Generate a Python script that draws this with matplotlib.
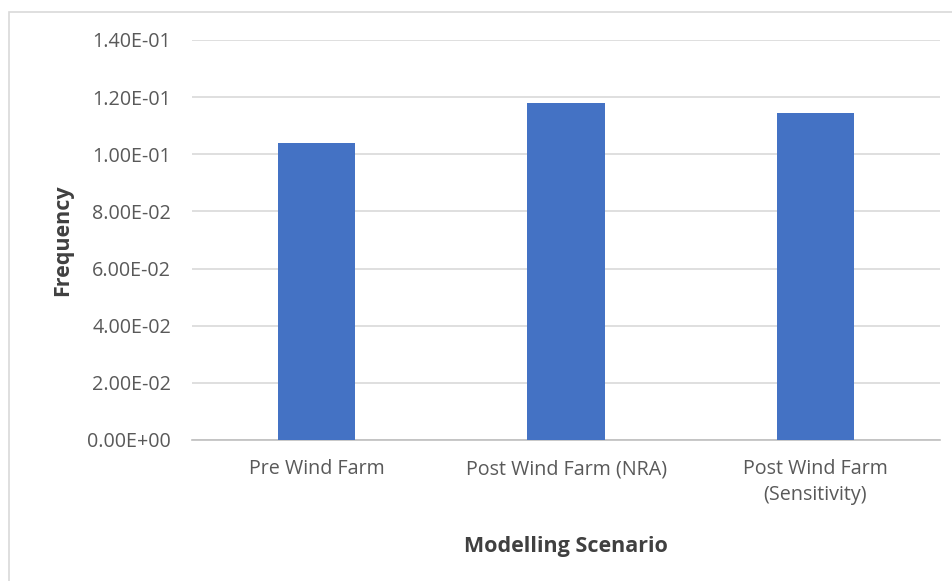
import matplotlib.pyplot as plt
from matplotlib.patches import Rectangle
from matplotlib.ticker import FuncFormatter

scenarios = ["Pre Wind Farm", "Post Wind Farm (NRA)", "Post Wind Farm\n(Sensitivity)"]
frequency = [0.1040, 0.1181, 0.1146]
y_ticks = [0.0, 0.02, 0.04, 0.06, 0.08, 0.10, 0.12, 0.14]

plt.rcParams["font.family"] = ["Open Sans", "DejaVu Sans"]

fig = plt.figure(figsize=(9.53, 5.81), dpi=100)
ax = fig.add_axes([0.2015, 0.2427, 0.7850, 0.6885])

x = range(len(scenarios))
ax.bar(x, frequency, width=0.31, color="#4472c4", zorder=3)

ax.set_xlim(-0.5, len(scenarios) - 0.5)
ax.set_ylim(0, 0.14)
ax.set_yticks(y_ticks)
ax.yaxis.set_major_formatter(FuncFormatter(lambda v, p: "{:.2E}".format(v)))
ax.set_xticks(list(x))
ax.set_xticklabels(scenarios, linespacing=1.4)

ax.grid(axis="y", color="#d9d9d9", linewidth=1.2, zorder=0)
for side in ["top", "right", "left"]:
    ax.spines[side].set_visible(False)
ax.spines["bottom"].set_color("#bfbfbf")
ax.spines["bottom"].set_linewidth(1.2)

ax.tick_params(axis="both", length=0, labelsize=14.2, labelcolor="#595959")
ax.tick_params(axis="y", pad=15)
ax.tick_params(axis="x", pad=14)

ax.set_ylabel("Frequency", fontsize=15.5, fontweight="bold", color="#404040", labelpad=10)
ax.set_xlabel("Modelling Scenario", fontsize=15.5, fontweight="bold", color="#404040", labelpad=22)

# light border around the whole chart
fig.patches.append(Rectangle((0.009, -0.01), 1.0, 0.99, transform=fig.transFigure,
                             fill=False, edgecolor="#d9d9d9", linewidth=1.2))

fig.savefig("out.png", dpi=100)
